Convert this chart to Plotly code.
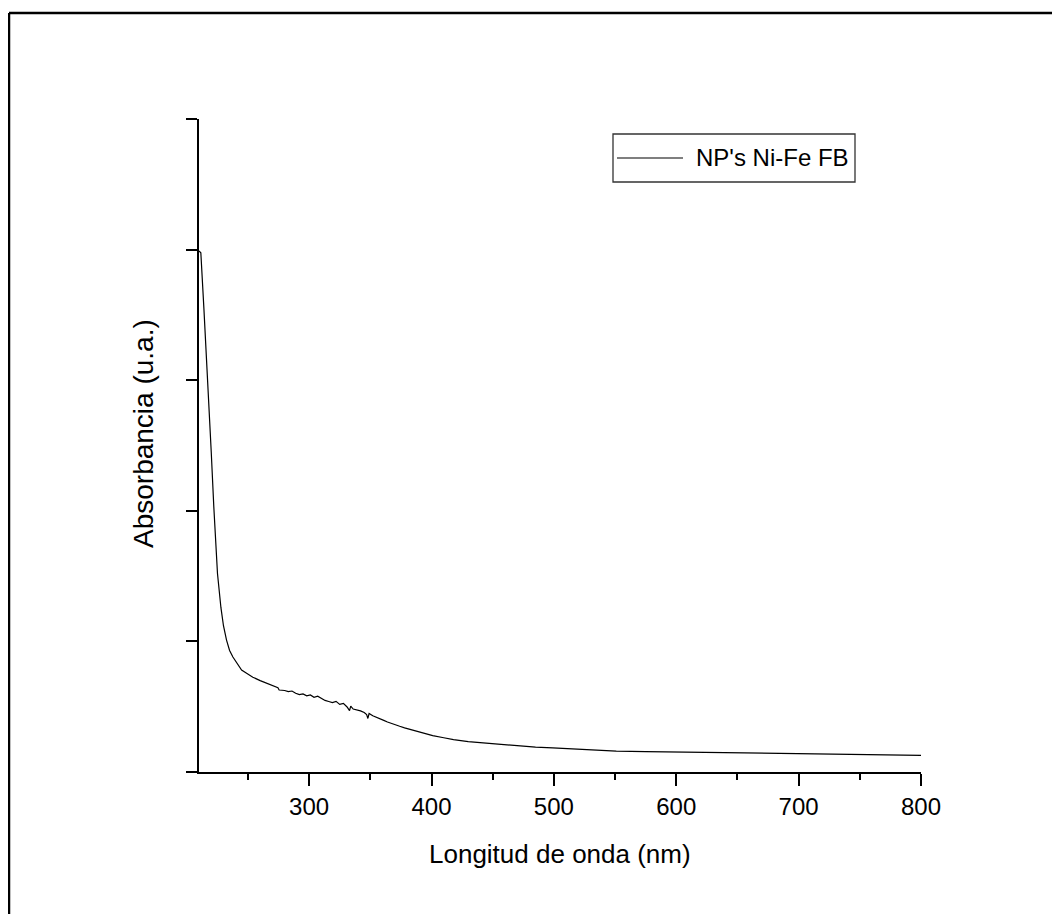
import plotly.graph_objects as go

# Data (wavelength in nm, absorbance in arbitrary units)
wavelength = [210, 211.5, 214, 217.5, 220, 222.1, 225.1, 227.9, 230, 232.5, 235, 237.7,
              240.7, 244.8, 248.9, 254, 260, 266, 272, 274.5, 275.5, 280, 283, 286, 289,
              292, 295, 298, 301, 304, 307, 310, 313, 316, 319, 322, 325, 328, 331, 333,
              334, 336, 339, 342, 345, 347, 348, 349, 352, 355, 358, 361, 364, 367, 370,
              374, 378, 382, 388, 394, 401, 410, 418, 430, 445, 460, 472, 485, 499, 513,
              527, 540, 551, 575, 600, 625, 650, 675, 701, 725, 750, 775, 800]
absorbance = [3.99, 3.975, 3.55, 2.95, 2.45, 2.03, 1.52, 1.26, 1.12, 1.01, 0.93, 0.88,
              0.835, 0.78, 0.756, 0.726, 0.70, 0.675, 0.652, 0.645, 0.628, 0.624, 0.615,
              0.620, 0.603, 0.592, 0.598, 0.583, 0.590, 0.572, 0.580, 0.561, 0.548, 0.540,
              0.532, 0.541, 0.518, 0.525, 0.498, 0.470, 0.505, 0.482, 0.476, 0.468, 0.455,
              0.440, 0.410, 0.448, 0.430, 0.420, 0.408, 0.395, 0.383, 0.372, 0.365, 0.350,
              0.338, 0.328, 0.312, 0.296, 0.278, 0.262, 0.248, 0.233, 0.222, 0.208, 0.197,
              0.190, 0.184, 0.178, 0.172, 0.165, 0.160, 0.156, 0.153, 0.149, 0.146, 0.144,
              0.141, 0.137, 0.134, 0.131, 0.128]
series_name = "NP's Ni-Fe FB"
x_title = "Longitud de onda (nm)"
y_title = "Absorbancia (u.a.)"

FONT = "Liberation Sans, Arial, sans-serif"
OFF = 8  # page body margin
W, H = 1060 - 2 * OFF, 922 - 2 * OFF
# plot area in window pixels, converted to figure pixels
L, R, T, B = 199 - OFF, 921 - OFF, 119 - OFF, 772 - OFF


def px(xw):
    return (xw - OFF - L) / (R - L)


def py(yw):
    return (B - (yw - OFF)) / (B - T)


fig = go.Figure()
fig.add_trace(go.Scatter(x=wavelength, y=absorbance, mode="lines", name=series_name,
                         line=dict(color="black", width=1.2), showlegend=False))

fig.update_layout(
    width=W, height=H,
    margin=dict(l=L, r=W - R, t=T, b=H - B, autoexpand=False),
    paper_bgcolor="white", plot_bgcolor="white",
    font=dict(family=FONT, size=24, color="black"),
    xaxis=dict(range=[210, 800], tick0=0, dtick=100, ticks="outside", ticklen=12,
               tickwidth=2, tickcolor="black", showline=True, linewidth=2,
               linecolor="black", showgrid=False, zeroline=False,
               tickfont=dict(size=24, family=FONT),
               minor=dict(ticks="outside", ticklen=6, tickwidth=2, tickcolor="black",
                          tick0=0, dtick=50, showgrid=False)),
    yaxis=dict(range=[0, 5], tick0=0, dtick=1, ticks="outside", ticklen=11,
               tickwidth=2, tickcolor="black", showline=True, linewidth=2,
               linecolor="black", showgrid=False, zeroline=False,
               showticklabels=False),
)

# axis titles
fig.add_annotation(text=x_title, xref="paper", yref="paper", x=0.5, y=py(837),
                   xanchor="center", yanchor="top", showarrow=False,
                   font=dict(size=26, family=FONT))
fig.add_annotation(text=y_title, xref="paper", yref="paper", x=px(143), y=py(434),
                   xanchor="center", yanchor="middle", textangle=-90, showarrow=False,
                   font=dict(size=28, family=FONT))

# legend box
fig.add_shape(type="rect", xref="paper", yref="paper", x0=px(613), x1=px(855),
              y0=py(182), y1=py(134), line=dict(color="#333333", width=1.3))
fig.add_shape(type="line", xref="paper", yref="paper", x0=px(617), x1=px(683),
              y0=py(158), y1=py(158), line=dict(color="black", width=1.2))
fig.add_annotation(text=series_name, xref="paper", yref="paper", x=px(694), y=py(158),
                   xanchor="left", yanchor="middle", showarrow=False,
                   font=dict(size=24, family=FONT))

# outer frame (left and top edges)
fig.add_shape(type="line", xref="paper", yref="paper", x0=px(9), x1=px(1060 + 20),
              y0=py(13), y1=py(13), line=dict(color="black", width=2.5))
fig.add_shape(type="line", xref="paper", yref="paper", x0=px(9), x1=px(9),
              y0=py(13), y1=py(922 + 20), line=dict(color="black", width=2.5))

fig.write_html("out.html")
